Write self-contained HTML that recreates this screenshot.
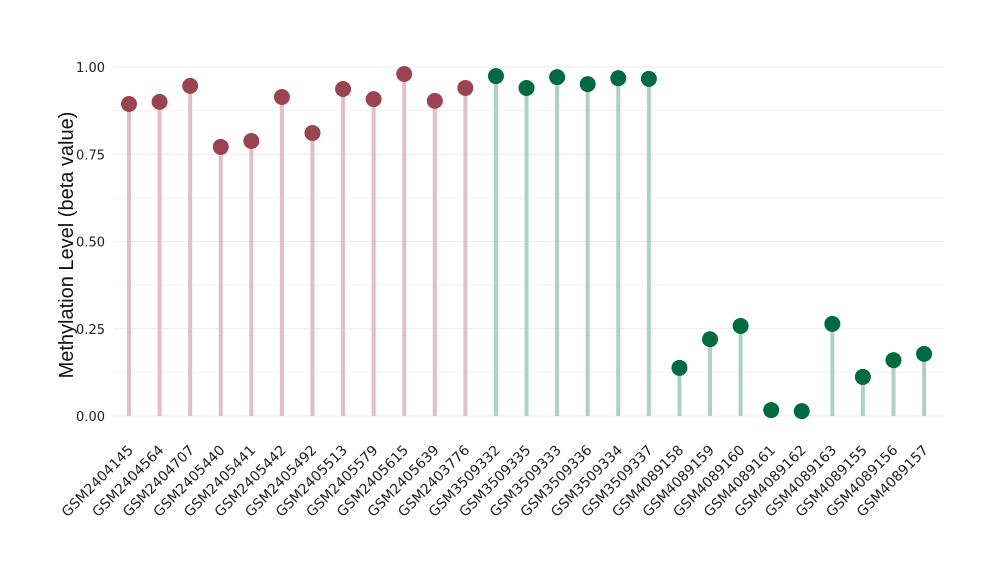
<!DOCTYPE html>
<html><head><meta charset="utf-8"><style>
html,body{margin:0;padding:0;background:#fff;}
</style></head><body>
<svg width="1000" height="580" viewBox="0 0 1000 580" xmlns="http://www.w3.org/2000/svg">
<g id="grid"></g>
<g id="plot"></g>
<text x="73" y="245" font-size="20" fill="#111" text-anchor="middle" style="font-family:'Liberation Sans',Arial,sans-serif" transform="rotate(-90 73 245)">Methylation Level (beta value)</text>
<script>
var vals=[0.894,0.90,0.946,0.771,0.788,0.914,0.811,0.937,0.908,0.98,0.903,0.94,0.974,0.94,0.971,0.951,0.968,0.966,0.138,0.22,0.258,0.017,0.014,0.264,0.112,0.16,0.178];
var labs=["GSM2404145","GSM2404564","GSM2404707","GSM2405440","GSM2405441","GSM2405442","GSM2405492","GSM2405513","GSM2405579","GSM2405615","GSM2405639","GSM2403776","GSM3509332","GSM3509335","GSM3509333","GSM3509336","GSM3509334","GSM3509337","GSM4089158","GSM4089159","GSM4089160","GSM4089161","GSM4089162","GSM4089163","GSM4089155","GSM4089156","GSM4089157"];
var ns="http://www.w3.org/2000/svg";
function el(p,t,a,txt){var e=document.createElementNS(ns,t);for(var k in a)e.setAttribute(k,a[k]);if(txt)e.textContent=txt;p.appendChild(e);return e;}
var g=document.getElementById("grid"),pl=document.getElementById("plot");
function Y(v){return 416-349*v;}
var DJ="font-family:'DejaVu Sans',sans-serif";
for(var i=0;i<=8;i++){var v=i*0.125;el(g,"line",{x1:113,x2:944,y1:Y(v),y2:Y(v),stroke:i%2?"#f3f3f3":"#ebebeb","stroke-width":1});}
[0,0.25,0.5,0.75,1].forEach(function(v){el(g,"text",{x:105,y:Y(v)+5,"font-size":13,style:DJ,fill:"#222","text-anchor":"end"},v.toFixed(2));});
for(var i=0;i<27;i++){var x=129+i*30.58,red=i<12;
el(pl,"line",{x1:x,x2:x,y1:416,y2:Y(vals[i]),stroke:red?"#dfc0c7":"#b0d0c4","stroke-width":4});
el(pl,"circle",{cx:x,cy:Y(vals[i]),r:8,fill:red?"#9b4451":"#006a40"});
el(pl,"text",{x:x+5,y:451,"font-size":14,style:DJ,fill:"#222","text-anchor":"end",transform:"rotate(-45 "+(x+5)+" 451)"},labs[i]);}
</script>
</svg>
</body></html>
